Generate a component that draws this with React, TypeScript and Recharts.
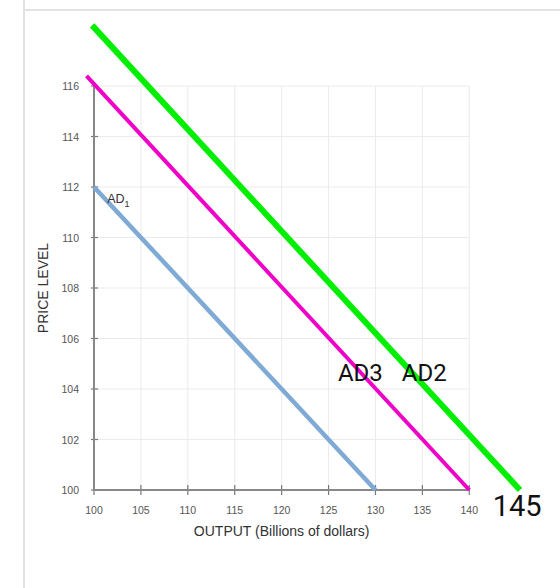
import React from "react";
import { LineChart, Line, XAxis, YAxis, ReferenceLine, ReferenceDot } from "recharts";

// aggregate demand curves (output, price level)
const ad1X = [100, 130];
const ad1Y = [112, 100];
const ad3X = [99.2, 140];
const ad3Y = [116.4, 100];
const ad2X = [99.8, 145.4];
const ad2Y = [118.4, 100];

const xTicks = [100, 105, 110, 115, 120, 125, 130, 135, 140];
const yTicks = [100, 102, 104, 106, 108, 110, 112, 114, 116];

const curveLabels = ["AD3", "AD2"];
const curveLabelX = [126.0, 132.8];
const curveLabelY = [104.3, 104.3];
const interceptLabel = 145;

const toPoints = (xs: number[], ys: number[]) => xs.map((x, i) => ({ x, y: ys[i] }));

const W = 560;
const H = 588;
const allX = [...ad1X, ...ad2X, ...ad3X];
const allY = [...ad1Y, ...ad2Y, ...ad3Y];
const xDomain = [Math.min(...allX), Math.max(...allX)];
const yDomain = [Math.min(...allY), Math.max(...allY)];

// where the framed 100..140 x 100..116 box sits on the page
const boxLeft = 94;
const boxRight = 469.3;
const boxTop = 86;
const boxBottom = 490;
const kx = (boxRight - boxLeft) / (xTicks[xTicks.length - 1] - xTicks[0]);
const ky = (boxBottom - boxTop) / (yTicks[yTicks.length - 1] - yTicks[0]);
const margin = {
  left: boxLeft - (xTicks[0] - xDomain[0]) * kx,
  right: W - (boxLeft + (xDomain[1] - xTicks[0]) * kx),
  top: boxBottom - (yDomain[1] - yTicks[0]) * ky,
  bottom: H - boxBottom,
};

const arial = "'Liberation Sans', Arial, sans-serif";
const roboto = "Roboto, 'Noto Sans', sans-serif";
const xMin = xTicks[0];
const xMax = xTicks[xTicks.length - 1];
const yMin = yTicks[0];
const yMax = yTicks[yTicks.length - 1];

export default function App() {
  return (
    <div style={{ position: "absolute", left: 0, top: 0, width: W, height: H, background: "#fff", overflow: "hidden" }}>
      <div style={{ position: "absolute", left: 23, top: 0, width: 2, height: H, background: "#e2e2e2" }} />
      <div style={{ position: "absolute", left: 25, top: 9, width: W - 25, height: 2, background: "#e2e2e2" }} />
      <div style={{ position: "absolute", left: 0, top: 0 }}>
        <LineChart width={W} height={H} margin={margin}>
          <XAxis type="number" dataKey="x" domain={xDomain} hide />
          <YAxis type="number" dataKey="y" domain={yDomain} hide />

          {/* grid + y ticks */}
          {yTicks.map((v) => (
            <ReferenceLine
              key={"gy" + v}
              segment={[{ x: xMin, y: v }, { x: xMax, y: v }]}
              stroke="#ebebeb"
              strokeWidth={1}
              label={(p: any) => (
                <g>
                  <line x1={p.viewBox.x - 3} x2={p.viewBox.x + 4} y1={p.viewBox.y} y2={p.viewBox.y} stroke="#777" strokeWidth={1.2} />
                  <text x={p.viewBox.x - 15} y={p.viewBox.y} textAnchor="end" dominantBaseline="central" fontSize={10.5} fill="#555" fontFamily={arial}>
                    {v}
                  </text>
                </g>
              )}
            />
          ))}
          {/* grid + x ticks */}
          {xTicks.map((v) => (
            <ReferenceLine
              key={"gx" + v}
              segment={[{ x: v, y: yMin }, { x: v, y: yMax }]}
              stroke="#ebebeb"
              strokeWidth={1}
              label={(p: any) => {
                const b = p.viewBox.y + p.viewBox.height;
                return (
                  <g>
                    <line x1={p.viewBox.x} x2={p.viewBox.x} y1={b - 5} y2={b + 5} stroke="#777" strokeWidth={1.2} />
                    <text x={p.viewBox.x} y={b + 20} textAnchor="middle" dominantBaseline="central" fontSize={10.5} fill="#555" fontFamily={arial}>
                      {v}
                    </text>
                  </g>
                );
              }}
            />
          ))}

          {/* axis lines with titles */}
          <ReferenceLine
            segment={[{ x: xMin, y: yMin }, { x: xMin, y: yMax }]}
            stroke="#888"
            strokeWidth={2}
            label={(p: any) => {
              const cx = p.viewBox.x - 46;
              const cy = p.viewBox.y + p.viewBox.height / 2;
              return (
                <text x={cx} y={cy} transform={`rotate(-90, ${cx}, ${cy})`} textAnchor="middle" fontSize={14} fill="#333" fontFamily={arial}>
                  PRICE LEVEL
                </text>
              );
            }}
          />
          <ReferenceLine
            segment={[{ x: xMin, y: yMin }, { x: xMax, y: yMin }]}
            stroke="#888"
            strokeWidth={2}
            label={(p: any) => (
              <text x={p.viewBox.x + p.viewBox.width / 2} y={p.viewBox.y + 46} textAnchor="middle" fontSize={14} fill="#333" fontFamily={arial}>
                OUTPUT (Billions of dollars)
              </text>
            )}
          />

          <Line data={toPoints(ad1X, ad1Y)} dataKey="y" stroke="#7eaad5" strokeWidth={4.5} dot={false} isAnimationActive={false} />
          <Line data={toPoints(ad3X, ad3Y)} dataKey="y" stroke="#ee00c8" strokeWidth={4} dot={false} isAnimationActive={false} />
          <Line data={toPoints(ad2X, ad2Y)} dataKey="y" stroke="#00ee00" strokeWidth={6} dot={false} isAnimationActive={false} />

          <ReferenceDot
            x={101.4}
            y={111.37}
            r={0}
            fill="none"
            stroke="none"
            label={(p: any) => (
              <text x={p.viewBox.x} y={p.viewBox.y} fontSize={12.5} fill="#333" fontFamily={arial}>
                AD
                <tspan fontSize={9} dy={4}>1</tspan>
              </text>
            )}
          />
          {curveLabels.map((t, i) => (
            <ReferenceDot
              key={t}
              x={curveLabelX[i]}
              y={curveLabelY[i]}
              r={0}
              fill="none"
              stroke="none"
              label={(p: any) => (
                <text x={p.viewBox.x} y={p.viewBox.y} fontSize={24} fill="#111" fontFamily={roboto}>
                  {t}
                </text>
              )}
            />
          ))}
          <ReferenceDot
            x={interceptLabel}
            y={yMin}
            r={0}
            fill="none"
            stroke="none"
            label={(p: any) => (
              <text x={p.viewBox.x + 1} y={p.viewBox.y + 26} textAnchor="middle" fontSize={29} fill="#111" fontFamily={roboto}>
                {interceptLabel}
              </text>
            )}
          />
        </LineChart>
      </div>
    </div>
  );
}
